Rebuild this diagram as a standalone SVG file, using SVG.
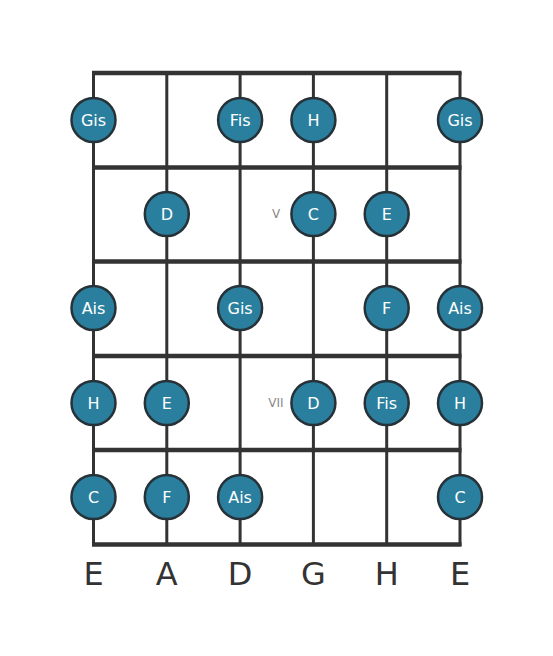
<svg xmlns="http://www.w3.org/2000/svg" width="553" height="656" viewBox="0 0 553 656">
<style>
.fret{stroke:#333;stroke-width:4.5;fill:none}
.str{stroke:#333;stroke-width:3;fill:none}
.dot{fill:#2a7f9e;stroke:#263238;stroke-width:2.5}
.nt{fill:#fff;font-family:"DejaVu Sans",sans-serif;font-size:16px;text-anchor:middle;dominant-baseline:central}
.fn{fill:#888;font-family:"DejaVu Sans",sans-serif;font-size:12px;text-anchor:middle;dominant-baseline:central}
.sn{fill:#333;font-family:"DejaVu Sans",sans-serif;font-size:32px;text-anchor:middle}
</style>
<rect width="553" height="656" fill="#fff"/>
<g id="connectors">
<line class="str" x1="93.5" y1="72" x2="93.5" y2="546"/>
<line class="str" x1="166.8" y1="72" x2="166.8" y2="546"/>
<line class="str" x1="240.1" y1="72" x2="240.1" y2="546"/>
<line class="str" x1="313.4" y1="72" x2="313.4" y2="546"/>
<line class="str" x1="386.7" y1="72" x2="386.7" y2="546"/>
<line class="str" x1="460" y1="72" x2="460" y2="546"/>
<line class="fret" x1="92" y1="73" x2="461.5" y2="73"/>
<line class="fret" x1="92" y1="167.5" x2="461.5" y2="167.5"/>
<line class="fret" x1="92" y1="261.5" x2="461.5" y2="261.5"/>
<line class="fret" x1="92" y1="356" x2="461.5" y2="356"/>
<line class="fret" x1="92" y1="450" x2="461.5" y2="450"/>
<line class="fret" x1="92" y1="544.5" x2="461.5" y2="544.5"/>
</g>
<g id="fretnums">
<text class="fn" x="276" y="214">V</text>
<text class="fn" x="276" y="403">VII</text>
</g>
<g id="n1"><circle class="dot" cx="93.5" cy="120" r="22"/><text class="nt" x="93.5" y="120">Gis</text></g>
<g id="n2"><circle class="dot" cx="240.1" cy="120" r="22"/><text class="nt" x="240.1" y="120">Fis</text></g>
<g id="n3"><circle class="dot" cx="313.4" cy="120" r="22"/><text class="nt" x="313.4" y="120">H</text></g>
<g id="n4"><circle class="dot" cx="460" cy="120" r="22"/><text class="nt" x="460" y="120">Gis</text></g>
<g id="n5"><circle class="dot" cx="166.8" cy="214" r="22"/><text class="nt" x="166.8" y="214">D</text></g>
<g id="n6"><circle class="dot" cx="313.4" cy="214" r="22"/><text class="nt" x="313.4" y="214">C</text></g>
<g id="n7"><circle class="dot" cx="386.7" cy="214" r="22"/><text class="nt" x="386.7" y="214">E</text></g>
<g id="n8"><circle class="dot" cx="93.5" cy="308" r="22"/><text class="nt" x="93.5" y="308">Ais</text></g>
<g id="n9"><circle class="dot" cx="240.1" cy="308" r="22"/><text class="nt" x="240.1" y="308">Gis</text></g>
<g id="n10"><circle class="dot" cx="386.7" cy="308" r="22"/><text class="nt" x="386.7" y="308">F</text></g>
<g id="n11"><circle class="dot" cx="460" cy="308" r="22"/><text class="nt" x="460" y="308">Ais</text></g>
<g id="n12"><circle class="dot" cx="93.5" cy="403" r="22"/><text class="nt" x="93.5" y="403">H</text></g>
<g id="n13"><circle class="dot" cx="166.8" cy="403" r="22"/><text class="nt" x="166.8" y="403">E</text></g>
<g id="n14"><circle class="dot" cx="313.4" cy="403" r="22"/><text class="nt" x="313.4" y="403">D</text></g>
<g id="n15"><circle class="dot" cx="386.7" cy="403" r="22"/><text class="nt" x="386.7" y="403">Fis</text></g>
<g id="n16"><circle class="dot" cx="460" cy="403" r="22"/><text class="nt" x="460" y="403">H</text></g>
<g id="n17"><circle class="dot" cx="93.5" cy="497" r="22"/><text class="nt" x="93.5" y="497">C</text></g>
<g id="n18"><circle class="dot" cx="166.8" cy="497" r="22"/><text class="nt" x="166.8" y="497">F</text></g>
<g id="n19"><circle class="dot" cx="240.1" cy="497" r="22"/><text class="nt" x="240.1" y="497">Ais</text></g>
<g id="n20"><circle class="dot" cx="460" cy="497" r="22"/><text class="nt" x="460" y="497">C</text></g>
<g id="strings">
<text class="sn" x="93.5" y="585">E</text>
<text class="sn" x="166.8" y="585">A</text>
<text class="sn" x="240.1" y="585">D</text>
<text class="sn" x="313.4" y="585">G</text>
<text class="sn" x="386.7" y="585">H</text>
<text class="sn" x="460" y="585">E</text>
</g>
</svg>
